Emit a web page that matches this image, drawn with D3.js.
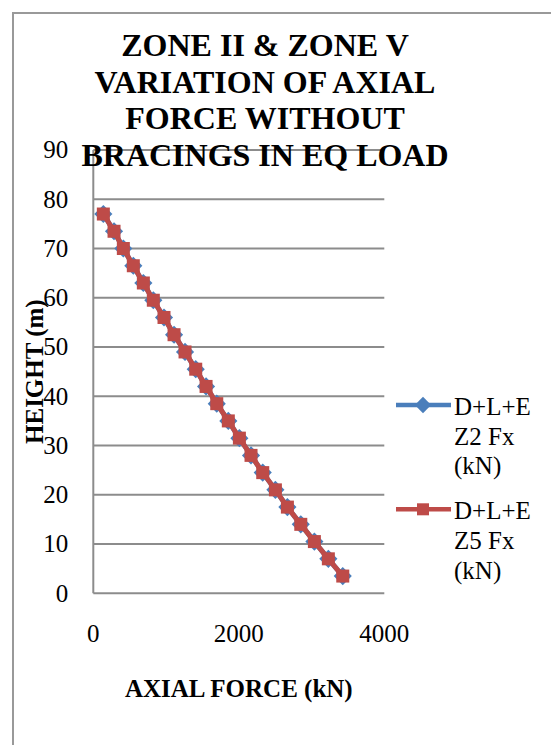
<!DOCTYPE html>
<html lang="en">
<head>
    <meta charset="UTF-8">
    <title>Zone II & Zone V axial force</title>
    <script src="https://d3js.org/d3.v7.min.js"></script>
    <style>
        body {
            margin: 0;
            background: #fff;
        }
        svg {
            display: block;
            font-family: "Liberation Serif", "Times New Roman", serif;
        }
        .grid line {
            stroke: #8c8c8c;
            stroke-width: 2px;
        }
        .tick-label {
            font-size: 25px;
            fill: #000;
        }
        .legend text {
            font-size: 25px;
            fill: #000;
        }
    </style>
</head>
<body>
    <svg id="chart" width="551" height="745"></svg>

    <script>
        // storey heights (m)
        const heights = [3.5, 7, 10.5, 14, 17.5, 21, 24.5, 28, 31.5, 35, 38.5,
                         42, 45.5, 49, 52.5, 56, 59.5, 63, 66.5, 70, 73.5, 77];
        // axial force (kN)
        const z2Fx = [3429, 3231, 3039, 2852, 2668, 2503, 2329, 2168, 2008, 1856, 1697,
                      1550, 1408, 1261, 1110, 972, 825, 688, 550, 413, 285, 138];
        const z5Fx = [3429, 3231, 3039, 2852, 2668, 2503, 2329, 2168, 2008, 1856, 1697,
                      1550, 1408, 1261, 1110, 972, 825, 688, 550, 413, 285, 138];

        const seriesNames = [["D+L+E", "Z2 Fx", "(kN)"], ["D+L+E", "Z5 Fx", "(kN)"]];
        const seriesColors = ["#4a7ebb", "#be4b48"];
        const titleLines = ["ZONE II & ZONE V", "VARIATION OF AXIAL", "FORCE WITHOUT", "BRACINGS IN EQ LOAD"];
        const xTicks = [0, 2000, 4000];
        const yTicks = [0, 10, 20, 30, 40, 50, 60, 70, 80, 90];

        const svg = d3.select("#chart");

        // outer chart frame (runs off the right and bottom edges)
        svg.append("rect")
            .attr("x", 13).attr("y", 13)
            .attr("width", 600).attr("height", 800)
            .attr("fill", "none")
            .attr("stroke", "#999")
            .attr("stroke-width", 2);

        const x = d3.scaleLinear().domain([0, 4000]).range([93.3, 384.3]);
        const y = d3.scaleLinear().domain([0, 90]).range([593.3, 150]);

        // horizontal gridlines
        const grid = svg.append("g").attr("class", "grid");
        grid.selectAll("line")
            .data(yTicks)
            .enter().append("line")
            .attr("x1", x(0)).attr("x2", x(4000))
            .attr("y1", d => y(d)).attr("y2", d => y(d));

        // vertical axis line
        grid.append("line")
            .attr("x1", x(0)).attr("x2", x(0))
            .attr("y1", y(0)).attr("y2", y(90));

        // y tick labels
        svg.selectAll(".ylab")
            .data(yTicks)
            .enter().append("text")
            .attr("class", "tick-label")
            .attr("x", x(0) - 25)
            .attr("y", d => y(d))
            .attr("dy", "0.33em")
            .attr("text-anchor", "end")
            .text(d => d);

        // x tick labels
        svg.selectAll(".xlab")
            .data(xTicks)
            .enter().append("text")
            .attr("class", "tick-label")
            .attr("x", d => x(d))
            .attr("y", 642)
            .attr("text-anchor", "middle")
            .text(d => d);

        // series
        const seriesData = [z2Fx, z5Fx].map(vals => vals.map((v, i) => ({ fx: v, h: heights[i] })));
        const line = d3.line().x(d => x(d.fx)).y(d => y(d.h));

        seriesData.forEach((data, si) => {
            const g = svg.append("g");
            g.append("path")
                .datum(data)
                .attr("d", line)
                .attr("fill", "none")
                .attr("stroke", seriesColors[si])
                .attr("stroke-width", 5)
                .attr("stroke-linejoin", "round");

            if (si === 0) {
                g.selectAll("path.mk")
                    .data(data)
                    .enter().append("path")
                    .attr("class", "mk")
                    .attr("d", d3.symbol().type(d3.symbolDiamond2).size(210))
                    .attr("transform", d => `translate(${x(d.fx)},${y(d.h)})`)
                    .attr("fill", seriesColors[si]);
            } else {
                g.selectAll("rect.mk")
                    .data(data)
                    .enter().append("rect")
                    .attr("class", "mk")
                    .attr("x", d => x(d.fx) - 6.5)
                    .attr("y", d => y(d.h) - 6.5)
                    .attr("width", 13).attr("height", 13)
                    .attr("fill", seriesColors[si]);
            }
        });

        // title, drawn over the top gridline
        svg.append("text")
            .attr("text-anchor", "middle")
            .attr("font-size", 32)
            .attr("font-weight", "bold")
            .selectAll("tspan")
            .data(titleLines)
            .enter().append("tspan")
            .attr("x", 265)
            .attr("y", (d, i) => 56 + i * 36.7)
            .text(d => d);

        // axis titles
        svg.append("text")
            .attr("x", (x(0) + x(4000)) / 2)
            .attr("y", 697)
            .attr("text-anchor", "middle")
            .attr("font-size", 25)
            .attr("font-weight", "bold")
            .text("AXIAL FORCE (kN)");

        svg.append("text")
            .attr("transform", `translate(43,${(y(0) + y(90)) / 2}) rotate(-90)`)
            .attr("text-anchor", "middle")
            .attr("font-size", 25)
            .attr("font-weight", "bold")
            .text("HEIGHT (m)");

        // legend
        const legend = svg.append("g").attr("class", "legend");
        const legendY = [405, 509.3];
        seriesNames.forEach((lines, si) => {
            const ly = legendY[si];
            legend.append("line")
                .attr("x1", 396).attr("x2", 451)
                .attr("y1", ly).attr("y2", ly)
                .attr("stroke", seriesColors[si])
                .attr("stroke-width", 4.5);
            if (si === 0) {
                legend.append("path")
                    .attr("d", d3.symbol().type(d3.symbolDiamond2).size(170))
                    .attr("transform", `translate(423,${ly})`)
                    .attr("fill", seriesColors[si]);
            } else {
                legend.append("rect")
                    .attr("x", 423 - 6).attr("y", ly - 6)
                    .attr("width", 12).attr("height", 12)
                    .attr("fill", seriesColors[si]);
            }
            legend.append("text")
                .selectAll("tspan")
                .data(lines)
                .enter().append("tspan")
                .attr("x", 454)
                .attr("y", (d, i) => ly + 10 + i * 29.6)
                .text(d => d);
        });
    </script>
</body>
</html>
